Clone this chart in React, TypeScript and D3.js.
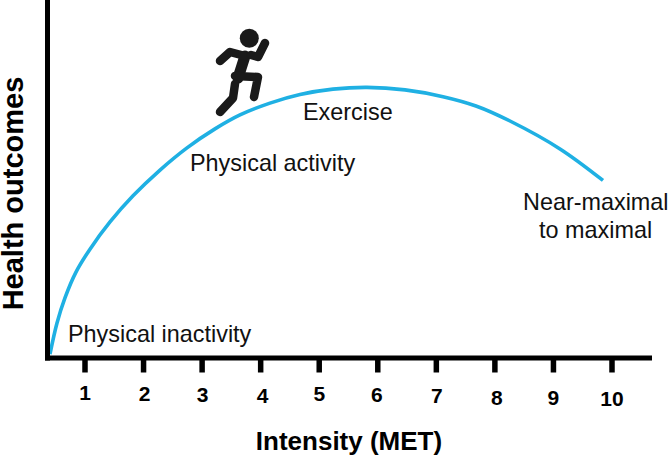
import React from "react";
import * as d3 from "d3";

const ticks = [1, 2, 3, 4, 5, 6, 7, 8, 9, 10];
const curveMet = [0.402, 0.522, 0.658, 0.846, 1.085, 1.427, 1.82, 2.281, 2.742, 3.22, 3.647, 4.159, 4.672, 5.235, 5.816, 6.465, 7.114, 7.677, 8.258, 9.112, 9.846];
const curveHealth = [1.1, 9.8, 16.8, 24, 30.4, 38, 45.3, 52.5, 58.7, 64, 67.9, 71.2, 73.6, 75.1, 75.6, 74.9, 73, 70.4, 66.2, 58.4, 49.6];
const tickDrop = [0, 1, 1.7, 3.3, 1, 2.3, 2.7, 4.7, 5, 6];
const tickShift = [0, 1, 0.5, 2, 0, -1, 0.5, 2, 0, 0];

const W = 669, H = 456;
const x = d3.scaleLinear().domain([1, 10]).range([85, 612]);
const y = d3.scaleLinear().domain([0, 100]).range([358, 0]);
const font = "'Liberation Sans', Arial, sans-serif";

const line = d3.line<number>()
  .x((d) => x(d))
  .y((_, i) => y(curveHealth[i]))
  .curve(d3.curveCatmullRom.alpha(0.5));

const runnerLimbs = [
  "M220,61 L230,52 L245,56",
  "M235,76 L258,77 L254,97",
  "M235,84 L233,98 L220,112",
  "M251,55 L258,57 L265,43",
];

const labels = [
  { t: "Physical inactivity", x: 68, y: 342 },
  { t: "Physical activity", x: 190, y: 171 },
  { t: "Exercise", x: 303, y: 119.5 },
  { t: "Near-maximal", x: 523, y: 209.5 },
  { t: "to maximal", x: 539, y: 238 },
];

export default function App() {
  return (
    <svg width={W} height={H} viewBox={`0 0 ${W} ${H}`} style={{ position: "absolute", left: 0, top: 0, background: "#fff" }}>
      <path d={line(curveMet) ?? ""} fill="none" stroke="#1fb0e3" strokeWidth={3.6} />
      <line x1={47.5} x2={47.5} y1={0} y2={360.5} stroke="#000" strokeWidth={5} />
      <line x1={45} x2={652} y1={358} y2={358} stroke="#000" strokeWidth={5} />
      {ticks.map((t, i) => (
        <g key={t}>
          <line x1={x(t)} x2={x(t)} y1={358} y2={372.5} stroke="#000" strokeWidth={5.5} />
          <text x={x(t) + tickShift[i]} y={400 + tickDrop[i]} textAnchor="middle" fontFamily={font} fontWeight={700} fontSize={21}>{t}</text>
        </g>
      ))}
      {labels.map((l) => (
        <text key={l.t} x={l.x} y={l.y} fontFamily={font} fontSize={23.4} fill="#111">{l.t}</text>
      ))}
      <text x={349} y={450} textAnchor="middle" fontFamily={font} fontWeight={700} fontSize={26}>Intensity (MET)</text>
      <text transform="translate(23,193.5) rotate(-90)" textAnchor="middle" fontFamily={font} fontWeight={700} fontSize={29}>Health outcomes</text>
      <circle cx={249.3} cy={38.3} r={9.5} fill="#1a1a1a" />
      <path d="M245,56 L238,78" fill="none" stroke="#1a1a1a" strokeWidth={11} strokeLinecap="round" />
      {runnerLimbs.map((d) => (
        <path key={d} d={d} fill="none" stroke="#1a1a1a" strokeWidth={8.5} strokeLinecap="round" strokeLinejoin="round" />
      ))}
    </svg>
  );
}
